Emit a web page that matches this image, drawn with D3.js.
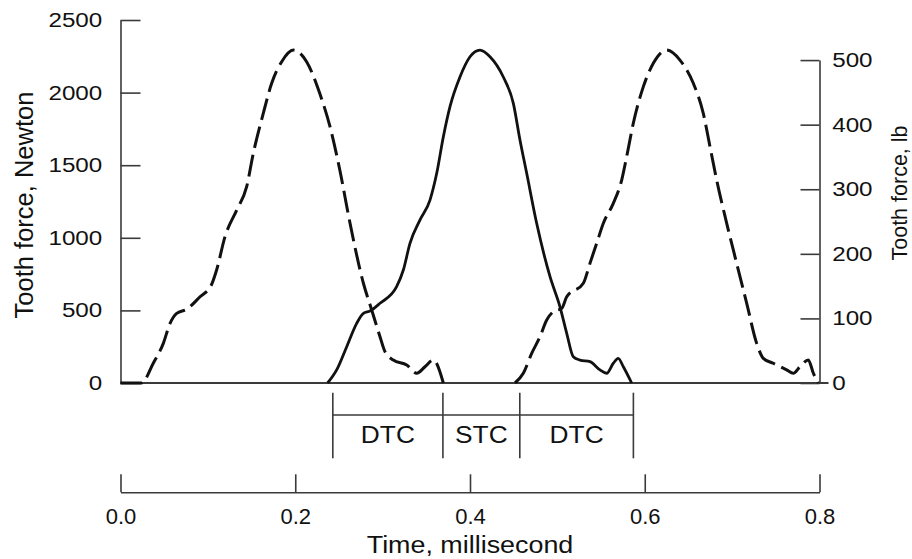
<!DOCTYPE html>
<html><head><meta charset="utf-8">
<script src="https://cdn.jsdelivr.net/npm/d3@7"></script>
<style>
html,body{margin:0;padding:0;background:#fff;}
svg{display:block;font-family:"Liberation Sans",Arial,Helvetica,sans-serif;}
</style></head>
<body><svg id="chart" width="912" height="559"></svg>
<script>
// ---- data ----
const timeTicks = [0, 0.2, 0.4, 0.6, 0.8];
const newtonTicks = [0, 500, 1000, 1500, 2000, 2500];
const lbTicks = [0, 100, 200, 300, 400, 500];
const phaseBounds = [0.243, 0.369, 0.457, 0.587];
const phaseLabels = ["DTC", "STC", "DTC"];
const NEWTON_PER_LB = 4.448;

// previous tooth (dashed)
const prevTime  = [0.000,0.024,0.0375,0.049,0.0567,0.0643,0.0758,0.091,0.104,0.110,0.1196,0.133,0.1444,0.152,0.1634,0.173,0.1845,0.1978,0.213,0.228,0.2398,0.251,0.2627,0.278,0.2875,0.297,0.3027,0.3122,0.3276,0.339,0.3485,0.358,0.3695];
const prevForce = [0,0,136,273,411,480,508,594,675,778,1008,1191,1352,1582,1857,2064,2213,2293,2213,1995,1765,1467,1100,687,503,319,216,158,124,67,112,158,0];
// current tooth (solid)
const curTime  = [0.237,0.2474,0.2589,0.2703,0.278,0.2855,0.297,0.316,0.3237,0.3313,0.3428,0.3542,0.3619,0.3695,0.3771,0.3886,0.400,0.4114,0.4229,0.438,0.4496,0.4572,0.4649,0.4763,0.4916,0.503,0.5107,0.5182,0.5259,0.5373,0.5488,0.5564,0.564,0.5697,0.5755,0.585];
const curForce = [0,90,250,411,480,496,549,663,778,962,1123,1260,1444,1696,1903,2109,2247,2293,2247,2109,1926,1674,1444,1100,732,525,342,181,158,147,90,67,136,170,112,0];
// next tooth (dashed)
const nextTime  = [0.4515,0.461,0.4706,0.4801,0.4878,0.4953,0.505,0.5107,0.5297,0.5373,0.545,0.5526,0.564,0.5736,0.5793,0.5869,0.5984,0.6098,0.6251,0.6403,0.6556,0.667,0.6747,0.6823,0.6938,0.7052,0.7167,0.7281,0.7357,0.7471,0.7624,0.770,0.7776,0.7872,0.793,0.7986];
const nextForce = [0,67,204,319,434,491,514,594,687,824,962,1100,1237,1398,1559,1789,2041,2202,2293,2224,2064,1857,1627,1398,1100,824,549,273,170,136,90,67,112,158,67,0];

// ---- drawing ----
const svg = d3.select("#chart");
const ink = "#111", axisInk = "#3a3a3a";

const x = d3.scaleLinear().domain([0, 0.8]).range([120.5, 819.5]);
const yN = d3.scaleLinear().domain([0, 2500]).range([383, 20]);
const yLb = d3.scaleLinear().domain([0, 500]).range([yN(0), yN(500 * NEWTON_PER_LB)]);

function styleAxis(g, fontSize, stretch) {
  g.selectAll("path,line").attr("stroke", axisInk).attr("stroke-width", 1.6);
  g.selectAll("text").attr("fill", ink).style("font-size", fontSize + "px")
    .attr("font-family", "Liberation Sans, Arial, sans-serif");
  if (stretch) g.selectAll("text").attr("transform", `scale(${stretch},1)`);
}

// left axis (Newton)
const gL = svg.append("g").attr("transform", `translate(${x(0)},0)`)
  .call(d3.axisLeft(yN).tickValues(newtonTicks).tickSize(-20).tickSizeOuter(0).tickPadding(15.5).tickFormat(d3.format("d")));
styleAxis(gL, 20.5, 1.18);

// right axis (lb)
const gR = svg.append("g").attr("transform", `translate(${x(0.8)},0)`)
  .call(d3.axisRight(yLb).tickValues(lbTicks).tickSize(-19).tickSizeOuter(0).tickPadding(10.8).tickFormat(d3.format("d")));
styleAxis(gR, 20.5, 1.18);

// baseline
svg.append("line").attr("x1", x(0)).attr("x2", x(0.8) + 9).attr("y1", yN(0)).attr("y2", yN(0))
  .attr("stroke", axisInk).attr("stroke-width", 2);

// time axis
const gT = svg.append("g").attr("transform", "translate(0,492.3)")
  .call(d3.axisBottom(x).tickValues(timeTicks).tickSize(-18).tickSizeOuter(0).tickPadding(16).tickFormat(d3.format(".1f")));
styleAxis(gT, 22, null);

// axis titles
svg.append("text").attr("transform", `translate(33,205) rotate(-90)`)
  .attr("text-anchor", "middle").attr("fill", ink).style("font-size", "25.5px").text("Tooth force, Newton");
svg.append("text").attr("transform", `translate(907,193) rotate(-90)`)
  .attr("text-anchor", "middle").attr("fill", ink).style("font-size", "21.5px").text("Tooth force, lb");
svg.append("text").attr("transform", `translate(${x(0.4)},553) scale(1.12,1)`)
  .attr("text-anchor", "middle").attr("fill", ink).style("font-size", "24px").text("Time, millisecond");

// curves
const line = d3.line().x(d => x(d[0])).y(d => yN(d[1])).curve(d3.curveMonotoneX);
const zip = (a, b) => a.map((t, i) => [t, b[i]]);
svg.append("path").datum(zip(prevTime, prevForce)).attr("d", line)
  .attr("fill", "none").attr("stroke", ink).attr("stroke-width", 3).attr("stroke-dasharray", "22,7");
svg.append("path").datum(zip(nextTime, nextForce)).attr("d", line)
  .attr("fill", "none").attr("stroke", ink).attr("stroke-width", 3).attr("stroke-dasharray", "22,7");
svg.append("path").datum(zip(curTime, curForce)).attr("d", line)
  .attr("fill", "none").attr("stroke", ink).attr("stroke-width", 2.8);

// contact phase bracket
const gP = svg.append("g");
gP.selectAll("line.v").data(phaseBounds).join("line").attr("class", "v")
  .attr("x1", d => x(d)).attr("x2", d => x(d)).attr("y1", 392.7).attr("y2", 458.3)
  .attr("stroke", axisInk).attr("stroke-width", 1.6);
gP.append("line").attr("x1", x(phaseBounds[0])).attr("x2", x(phaseBounds[phaseBounds.length - 1]))
  .attr("y1", 415).attr("y2", 415).attr("stroke", axisInk).attr("stroke-width", 1.6);
gP.selectAll("text").data(phaseLabels).join("text")
  .attr("transform", (d, i) => `translate(${(x(phaseBounds[i]) + x(phaseBounds[i + 1])) / 2},443.3) scale(1.12,1)`)
  .attr("text-anchor", "middle").attr("fill", ink).style("font-size", "23.5px").text(d => d);
</script></body></html>
